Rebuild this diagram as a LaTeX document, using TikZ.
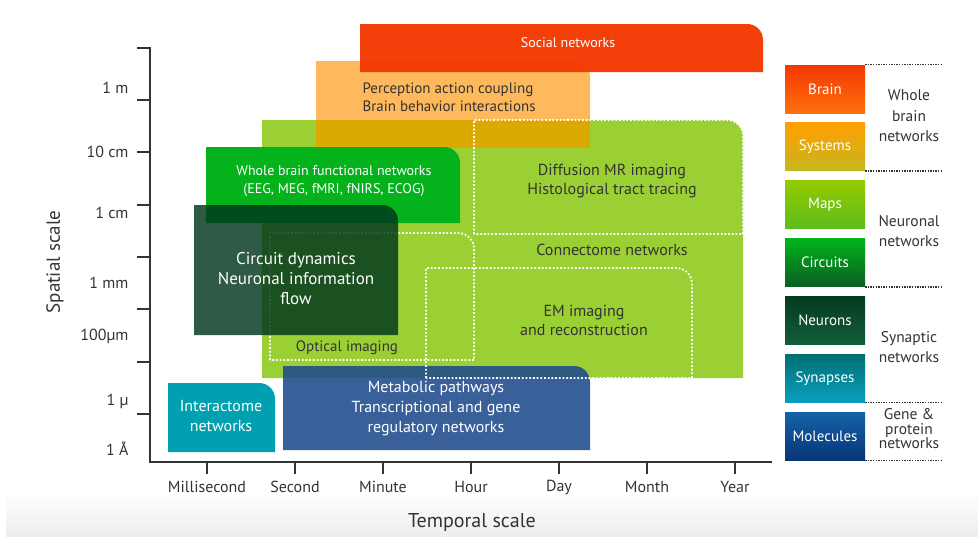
\documentclass[tikz,border=0pt]{standalone}
\usepackage{fontspec}
\setmainfont{PT Sans}
\usetikzlibrary{positioning}

\definecolor{socialred}{HTML}{F33800}
\definecolor{percorange}{HTML}{FDB95B}
\definecolor{mapgreen}{HTML}{9BD035}
\definecolor{goldover}{HTML}{DCA802}
\definecolor{brightgreen}{HTML}{04B31B}
\definecolor{circuitgreen}{HTML}{00361D}
\definecolor{metablue}{HTML}{1F4A8C}
\definecolor{interteal}{HTML}{00A0B0}
\definecolor{textgray}{HTML}{333333}

% box with one rounded corner (top right): style, x1, top, x2, bottom
\newcommand{\cornerbox}[5]{%
  \path[#1] (#2,#5) -- (#2,#3) -- ({#4-16},#3)
    .. controls ({#4-7},#3) and (#4,{#3+7}) .. (#4,{#3+16}) -- (#4,#5) -- cycle;}

\begin{document}
\begin{tikzpicture}[x=1pt,y=-1pt,
  axis/.style={draw=textgray,line width=2},
  imgframe/.style={draw=white,line width=1.8,dash pattern=on 1.8pt off 1.9pt},
  boxtext/.style={align=center,font=\fontsize{16}{19}\selectfont},
  ticklabel/.style={text=textgray,font=\fontsize{16}{19}\selectfont},
  ylab/.style={text=textgray,anchor=east,text height=11,text depth=3,font=\fontsize{16}{19}\selectfont},
  legbox/.style={minimum width=80,minimum height=48,inner sep=0,text=white,font=\fontsize{15}{18}\selectfont},
  legtext/.style={text=textgray,align=center,font=\fontsize{15.5}{20.5}\selectfont},
  legsep/.style={draw=textgray,line width=1.3,dash pattern=on 1.3pt off 1.3pt}]

\useasboundingbox (0,0) rectangle (978,536);
\fill[top color=white,bottom color=gray!14] (6,492) rectangle (978,536);

% -- whole brain
\cornerbox{fill=percorange}{316}{61}{590}{148}
\cornerbox{fill=socialred,opacity=.96}{360}{24}{763}{72}

% -- neuronal
\cornerbox{fill=mapgreen}{262}{120}{743}{378}
\fill[goldover] (316,120) rectangle (590,148);
\cornerbox{fill=brightgreen}{206}{147}{460}{223}

% -- molecular
\cornerbox{fill=metablue,opacity=.88}{283}{366}{590}{450}
\cornerbox{fill=interteal}{168}{383}{275}{452}

% -- imaging methods
\cornerbox{imgframe}{474}{120}{743}{234}
\cornerbox{imgframe}{270}{233}{474}{360}
\cornerbox{imgframe}{426}{268}{692}{378}

% -- synaptic
\cornerbox{fill=circuitgreen,opacity=.82}{194}{205}{398}{335}

% -- labels in the boxes
\node[boxtext,text=white,font=\fontsize{14}{17}\selectfont] (social) at (568,43) {Social networks};
\node[boxtext,text=textgray,align=left,anchor=west,font=\fontsize{15}{18}\selectfont] (percept) at (359,97) {Perception action coupling\\Brain behavior interactions};
\node[boxtext,text=textgray] (diffusion) at (612,181) {Diffusion MR imaging\\Histological tract tracing};
\node[boxtext,text=textgray] (connectome) at (612,250) {Connectome networks};
\node[boxtext,text=white,font=\fontsize{14}{18}\selectfont] (wholebrain) at (334,181) {Whole brain functional networks\\(EEG, MEG, fMRI, fNIRS, ECOG)};
\node[boxtext,text=white,font=\fontsize{17}{20}\selectfont] (circuit) at (296,279) {Circuit dynamics\\Neuronal information\\flow};
\node[boxtext,text=textgray,font=\fontsize{15}{18}\selectfont] (optical) at (347,348) {Optical imaging};
\node[boxtext,text=textgray] (em) at (584,320) {EM imaging\\and reconstruction};
\node[boxtext,text=white,font=\fontsize{16}{20}\selectfont] (metabolic) at (436,409) {Metabolic pathways\\Transcriptional and gene\\regulatory networks};
\node[boxtext,text=white,font=\fontsize{16}{20}\selectfont] (interactome) at (221,416) {Interactome\\networks};

% -- axes
\draw[axis] (137,47.6) -- (150,47.6) -- (150,462) -- (772,462);
\foreach \y in {100,152.3,204.6,257,309.3,361.6,414}
  \draw[axis] (137,\y) -- (150,\y);
\foreach \x/\lab in {207/Millisecond,295/Second,383/Minute,471/Hour,559/Day,647/Month,735/Year}{
  \draw[axis] (\x,462) -- (\x,474);
  \node[ticklabel] (t\x) at (\x,487) {\lab};
}
\node[ylab] (ym) at (132,89) {1 m};
\node[ylab] (ydcm) at (132,153) {10 cm};
\node[ylab] (ycm) at (132,214) {1 cm};
\node[ylab] (ymm) at (132,284) {1 mm};
\node[ylab] (yhum) at (132,336) {100µm};
\node[ylab] (yum) at (132,401) {1 µ};
\node[ylab] (yang) at (132,451) {1 Å};
\node[text=textgray,rotate=90,font=\fontsize{19}{22}\selectfont] (yname) at (55,262) {Spatial scale};
\node[text=textgray,font=\fontsize{20}{24}\selectfont] (xname) at (472,522) {Temporal scale};

% -- legend
\node[legbox,top color=socialred,bottom color={rgb,255:red,255;green,112;blue,16}] (brain) at (825,89) {Brain};
\node[legbox,below=9.5pt of brain,top color={rgb,255:red,255;green,159;blue,0},bottom color={rgb,255:red,198;green,182;blue,30}] (systems) {Systems};
\node[legbox,below=9.5pt of systems,top color={rgb,255:red,148;green,203;blue,0},bottom color={rgb,255:red,93;green,187;blue,28}] (maps) {Maps};
\node[legbox,below=9.5pt of maps,top color={rgb,255:red,0;green,180;blue,26},bottom color={rgb,255:red,10;green,94;blue,36}] (circuits) {Circuits};
\node[legbox,below=9.5pt of circuits,top color={rgb,255:red,5;green,58;blue,32},bottom color={rgb,255:red,18;green,95;blue,58}] (neurons) {Neurons};
\node[legbox,below=9.5pt of neurons,top color={rgb,255:red,0;green,111;blue,115},bottom color={rgb,255:red,10;green,160;blue,190}] (synapses) {Synapses};
\node[legbox,below=9.5pt of synapses,top color={rgb,255:red,20;green,98;blue,168},bottom color={rgb,255:red,8;green,52;blue,120}] (molecules) {Molecules};

\draw[legsep] (brain.north east) -- ++(76,0);
\draw[legsep] (systems.south east) -- ++(76,0);
\draw[legsep] (circuits.south east) -- ++(76,0);
\draw[legsep] (synapses.south east) -- ++(76,0);
\draw[legsep] (molecules.south east) -- ++(76,0);

\node[legtext] (gwhole) at (909,116) {Whole\\brain\\networks};
\node[legtext] (gneur) at (909,231) {Neuronal\\networks};
\node[legtext] (gsyn) at (909,347) {Synaptic\\networks};
\node[legtext,font=\fontsize{15.5}{14.5}\selectfont] (ggene) at (909,429) {Gene \&\\protein\\networks};
\end{tikzpicture}
\end{document}
